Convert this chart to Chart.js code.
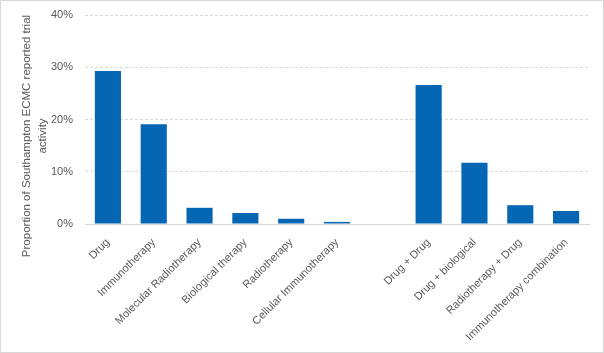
<!DOCTYPE html>
<html>
<head>
<meta charset="utf-8">
<script src="https://cdn.jsdelivr.net/npm/chart.js@4"></script>
<style>
  html, body { margin: 0; padding: 0; background: #fff; }
  #wrap { width: 604px; height: 353px; box-sizing: border-box; border: 1px solid #d9d9d9; }
</style>
</head>
<body>
<div id="wrap"><canvas id="myChart" width="602" height="351"></canvas></div>
<script>
// Trial activity by therapy type (single therapies, gap, combinations)
var categories = ['Drug', 'Immunotherapy', 'Molecular Radiotherapy', 'Biological therapy', 'Radiotherapy',
    'Cellular Immunotherapy', '', 'Drug + Drug', 'Drug + biological', 'Radiotherapy + Drug', 'Immunotherapy combination'];
var proportions = [29.3, 19.1, 3.1, 2.1, 1.0, 0.4, null, 26.6, 11.7, 3.6, 2.5];
var yTicks = [0, 10, 20, 30, 40];
var yTitle = ['Proportion of Southampton ECMC reported trial', 'activity'];

var font = "'Liberation Sans', Arial, sans-serif";

// y axis title sits a bit below the plot centre, as in the original
var yTitlePlugin = {
    id: 'yTitle',
    afterDraw: function (chart) {
        var c = chart.ctx;
        c.save();
        c.translate(34, 135);
        c.rotate(-Math.PI / 2);
        c.fillStyle = '#595959';
        c.font = '11.5px ' + font;
        c.textAlign = 'center';
        c.textBaseline = 'middle';
        c.fillText(yTitle[0], 0, -8);
        c.fillText(yTitle[1], 0, 8);
        c.restore();
    }
};

var ctx = document.getElementById('myChart').getContext('2d');
var myChart = new Chart(ctx, {
    type: 'bar',
    data: {
        labels: categories,
        datasets: [{
            label: 'Proportion',
            data: proportions,
            backgroundColor: '#0566B4',
            barPercentage: 0.57,
            categoryPercentage: 1
        }]
    },
    options: {
        responsive: false,
        animation: false,
        layout: { padding: { left: 0, top: 14, right: 14, bottom: 0 } },
        plugins: { legend: { display: false }, tooltip: { enabled: false } },
        scales: {
            x: {
                grid: { display: false },
                border: { display: true, color: '#d9d9d9', width: 1 },
                afterFit: function (axis) { axis.height = 128; },
                ticks: {
                    minRotation: 45, maxRotation: 45, autoSkip: false,
                    color: '#595959', font: { family: font, size: 11 }, padding: 4
                }
            },
            y: {
                min: 0, max: 40,
                afterBuildTicks: function (axis) {
                    axis.ticks = yTicks.map(function (v) { return { value: v }; });
                },
                afterFit: function (axis) { axis.width = 84; axis.paddingTop = 0; },
                grid: { color: '#d9d9d9', drawTicks: false, borderDash: [3, 2] },
                border: { display: false, dash: [3, 2] },
                ticks: {
                    color: '#595959', font: { family: font, size: 11 }, padding: 12,
                    callback: function (v) { return v + '%'; }
                }
            }
        }
    },
    plugins: [yTitlePlugin]
});
</script>
</body>
</html>
